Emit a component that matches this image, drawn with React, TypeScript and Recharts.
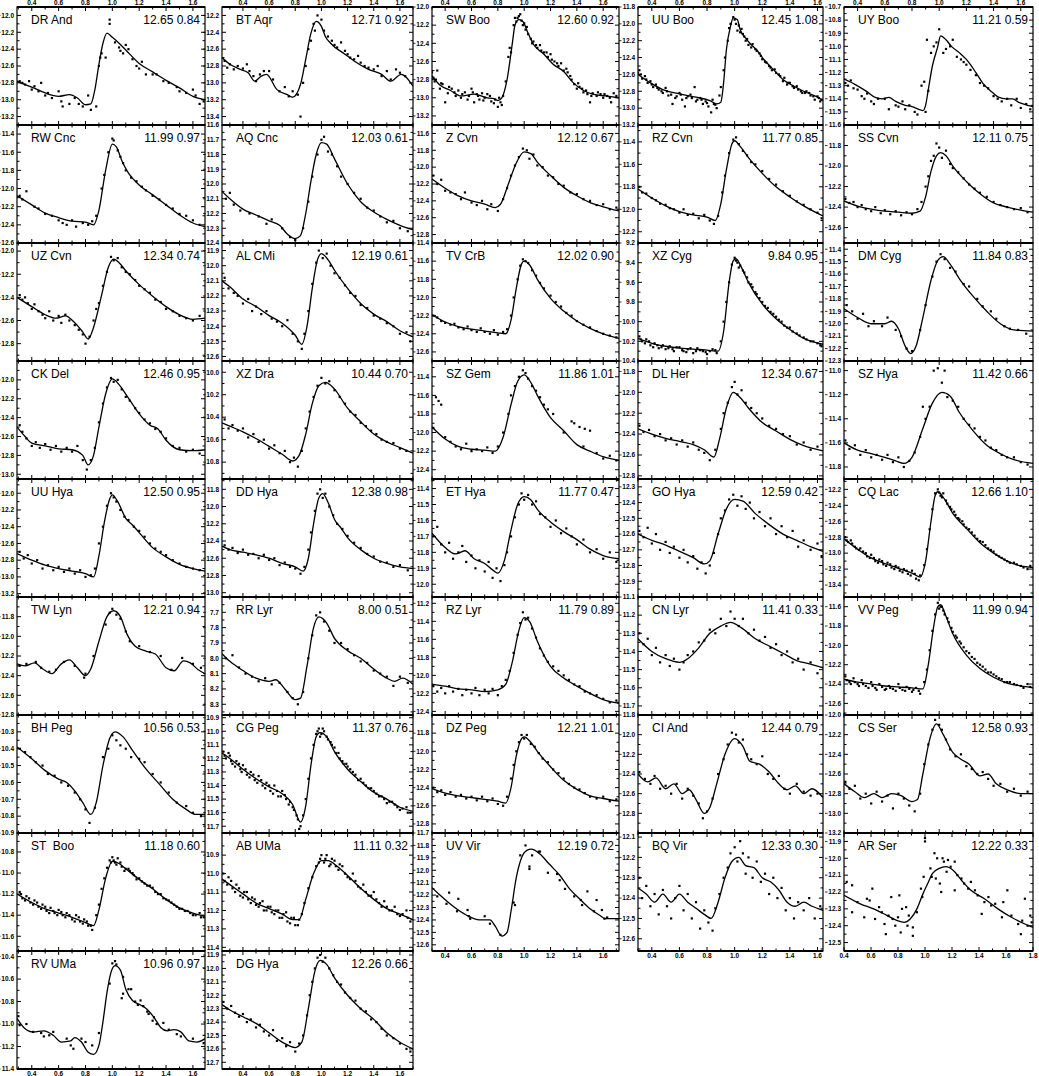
import React from 'react';
import { ComposedChart, Line, Scatter, XAxis, YAxis } from 'recharts';

type P = [number, number];

// light curves: [phase, magnitude]
const drAnd: P[] = [[0.29,12.78],[0.35,12.82],[0.4,12.85],[0.5,12.92],[0.6,12.96],[0.68,12.94],[0.74,12.98],[0.8,13.06],[0.84,13.05],[0.87,12.88],[0.9,12.58],[0.93,12.33],[0.96,12.21],[1.0,12.26],[1.05,12.33],[1.1,12.41],[1.2,12.57],[1.3,12.67],[1.4,12.77],[1.5,12.86],[1.6,12.96],[1.69,13.0]];
const drAndPts: P[] = [[0.31,12.78],[0.33,12.8],[0.35,12.82],[0.38,12.78],[0.4,12.88],[0.42,12.84],[0.45,12.9],[0.47,12.8],[0.5,12.95],[0.52,12.92],[0.55,12.98],[0.6,12.9],[0.62,13.02],[0.63,13.08],[0.68,13.05],[0.72,12.98],[0.75,13.05],[0.78,13.08],[0.82,12.95],[0.84,13.12],[0.88,13.08],[0.9,12.6],[0.91,12.5],[0.92,12.45],[0.95,12.5],[0.98,12.1],[0.98,12.05],[1.02,12.32],[1.05,12.38],[1.06,12.42],[1.08,12.45],[1.1,12.35],[1.12,12.4],[1.15,12.52],[1.18,12.6],[1.2,12.63],[1.22,12.55],[1.25,12.7],[1.3,12.7],[1.33,12.7],[1.38,12.78],[1.42,12.8],[1.48,12.85],[1.5,12.9],[1.55,12.92],[1.6,12.88],[1.62,12.95],[1.65,13.05],[1.68,13.02]];
const btAqr: P[] = [[0.24,12.7],[0.3,12.78],[0.38,12.84],[0.44,12.88],[0.49,12.98],[0.54,12.92],[0.58,12.9],[0.66,13.08],[0.74,13.14],[0.78,13.17],[0.84,13.02],[0.88,12.72],[0.92,12.41],[0.96,12.27],[1.0,12.33],[1.03,12.45],[1.07,12.53],[1.18,12.66],[1.25,12.74],[1.36,12.84],[1.46,12.9],[1.53,12.98],[1.61,12.9],[1.7,13.04]];
const btAqrPts: P[] = [[0.26,12.74],[0.28,12.82],[0.3,12.78],[0.33,12.84],[0.36,12.8],[0.4,12.83],[0.43,12.78],[0.45,12.86],[0.48,12.92],[0.5,12.98],[0.53,12.9],[0.56,12.86],[0.6,12.86],[0.63,12.96],[0.68,13.1],[0.72,13.05],[0.75,13.16],[0.78,13.1],[0.82,13.14],[0.84,13.4],[0.86,13.0],[0.88,12.8],[0.9,12.6],[0.92,12.5],[0.94,12.3],[0.95,12.38],[0.97,12.2],[1.0,12.25],[1.02,12.38],[1.05,12.45],[1.08,12.5],[1.1,12.55],[1.12,12.58],[1.15,12.52],[1.18,12.62],[1.2,12.66],[1.22,12.7],[1.25,12.72],[1.28,12.68],[1.3,12.76],[1.33,12.8],[1.36,12.82],[1.4,12.84],[1.43,12.8],[1.46,12.92],[1.5,12.86],[1.53,12.96],[1.57,12.84],[1.6,12.88],[1.64,12.92]];
const swBoo: P[] = [[0.29,12.74],[0.36,12.86],[0.44,12.92],[0.52,12.98],[0.62,12.96],[0.72,13.0],[0.77,13.01],[0.8,13.03],[0.83,13.0],[0.87,12.8],[0.91,12.4],[0.93,12.2],[0.96,12.14],[0.99,12.16],[1.03,12.29],[1.07,12.41],[1.15,12.52],[1.22,12.63],[1.3,12.71],[1.37,12.83],[1.45,12.92],[1.52,12.96],[1.62,12.98],[1.72,13.0]];
const swBooPts: P[] = [[0.3,12.72],[0.31,12.78],[0.33,12.8],[0.34,12.7],[0.36,12.9],[0.38,12.85],[0.4,13.05],[0.42,12.95],[0.45,12.9],[0.48,12.98],[0.5,12.92],[0.52,13.0],[0.55,12.94],[0.58,12.98],[0.6,12.9],[0.62,13.05],[0.64,12.96],[0.66,13.02],[0.68,12.95],[0.7,13.0],[0.72,12.96],[0.75,13.04],[0.78,13.02],[0.8,13.1],[0.82,13.05],[0.84,12.98],[0.86,12.82],[0.88,12.55],[0.89,12.45],[0.9,12.5],[0.92,12.2],[0.93,12.12],[0.95,12.12],[0.96,12.1],[0.97,12.08],[0.98,12.15],[1.0,12.18],[1.01,12.25],[1.03,12.3],[1.05,12.35],[1.07,12.38],[1.1,12.45],[1.12,12.42],[1.15,12.5],[1.18,12.55],[1.2,12.52],[1.23,12.6],[1.26,12.65],[1.28,12.62],[1.3,12.7],[1.33,12.72],[1.36,12.8],[1.38,12.85],[1.4,12.9],[1.42,12.88],[1.45,12.94],[1.48,12.96],[1.5,13.05],[1.52,12.95],[1.55,12.98],[1.58,12.96],[1.6,13.0],[1.63,12.98],[1.66,13.05],[1.7,12.98],[0.32,12.82],[0.37,12.84],[0.43,12.88],[0.47,12.94],[0.53,12.96],[0.57,13.02],[0.61,12.94],[0.65,12.98],[0.69,13.03],[0.74,12.98],[0.77,13.06],[0.81,13.0],[0.83,13.08],[0.94,12.16],[0.99,12.2],[1.02,12.22],[1.06,12.4],[1.09,12.42],[1.13,12.48],[1.17,12.5],[1.21,12.58],[1.25,12.62],[1.32,12.68],[1.35,12.76],[1.41,12.84],[1.44,12.9],[1.47,12.92],[1.51,12.98],[1.56,12.94],[1.61,12.96],[1.65,13.0],[1.68,12.95]];
const uuBoo: P[] = [[0.3,12.6],[0.39,12.7],[0.48,12.78],[0.6,12.83],[0.72,12.87],[0.82,12.91],[0.87,12.95],[0.9,12.93],[0.92,12.7],[0.94,12.31],[0.97,12.03],[0.99,11.93],[1.02,11.95],[1.04,12.07],[1.08,12.17],[1.11,12.23],[1.16,12.31],[1.21,12.42],[1.28,12.54],[1.35,12.66],[1.43,12.74],[1.5,12.8],[1.6,12.87],[1.64,12.91]];
const uuBooPts: P[] = [[0.3,12.58],[0.31,12.55],[0.33,12.65],[0.35,12.62],[0.37,12.7],[0.39,12.68],[0.41,12.75],[0.43,12.72],[0.45,12.78],[0.48,12.82],[0.5,12.76],[0.52,12.85],[0.55,12.95],[0.57,12.88],[0.6,12.82],[0.62,12.9],[0.64,12.98],[0.66,12.86],[0.69,12.88],[0.71,12.75],[0.73,12.9],[0.75,12.88],[0.77,12.95],[0.79,12.92],[0.81,12.98],[0.83,13.05],[0.85,12.95],[0.87,13.0],[0.89,12.85],[0.9,12.75],[0.92,12.55],[0.93,12.4],[0.95,12.2],[0.96,12.05],[0.97,12.0],[0.99,11.92],[1.0,11.95],[1.01,12.0],[1.02,12.08],[1.04,12.1],[1.06,12.12],[1.08,12.2],[1.1,12.25],[1.12,12.28],[1.15,12.3],[1.18,12.35],[1.2,12.42],[1.22,12.45],[1.25,12.5],[1.27,12.55],[1.3,12.58],[1.33,12.62],[1.35,12.68],[1.38,12.72],[1.4,12.7],[1.43,12.76],[1.46,12.78],[1.49,12.82],[1.52,12.8],[1.55,12.85],[1.58,12.9],[1.6,12.86],[1.62,12.92],[0.32,12.6],[0.36,12.66],[0.4,12.72],[0.44,12.76],[0.47,12.8],[0.51,12.8],[0.54,12.84],[0.58,12.86],[0.61,12.84],[0.65,12.88],[0.68,12.84],[0.72,12.92],[0.76,12.9],[0.8,12.94],[0.84,12.9],[0.86,12.96],[1.03,12.02],[1.05,12.06],[1.07,12.15],[1.09,12.18],[1.13,12.24],[1.16,12.32],[1.19,12.38],[1.23,12.46],[1.26,12.52],[1.29,12.54],[1.32,12.6],[1.36,12.64],[1.39,12.7],[1.42,12.74],[1.45,12.74],[1.48,12.8],[1.51,12.82],[1.54,12.82],[1.57,12.86],[1.61,12.88],[1.63,12.9]];
const uyBoo: P[] = [[0.3,11.25],[0.38,11.29],[0.46,11.34],[0.53,11.39],[0.58,11.4],[0.63,11.39],[0.68,11.42],[0.75,11.45],[0.8,11.46],[0.85,11.48],[0.88,11.49],[0.9,11.45],[0.92,11.33],[0.95,11.15],[0.99,11.0],[1.01,10.92],[1.05,10.95],[1.09,11.0],[1.15,11.05],[1.2,11.1],[1.27,11.2],[1.32,11.28],[1.39,11.35],[1.44,11.39],[1.49,11.4],[1.54,11.4],[1.59,11.43],[1.65,11.45],[1.69,11.46]];
const uyBooPts: P[] = [[0.31,11.28],[0.33,11.3],[0.35,11.26],[0.37,11.32],[0.4,11.33],[0.43,11.38],[0.45,11.4],[0.47,11.36],[0.5,11.42],[0.52,11.44],[0.55,11.4],[0.6,11.4],[0.63,11.48],[0.68,11.45],[0.7,11.46],[0.73,11.42],[0.75,11.48],[0.78,11.45],[0.82,11.5],[0.84,11.52],[0.87,11.3],[0.89,11.27],[0.9,11.5],[0.91,10.95],[0.92,11.34],[0.94,11.05],[0.96,11.0],[0.98,10.97],[1.0,10.87],[1.03,11.05],[1.05,11.02],[1.08,11.0],[1.1,10.95],[1.13,11.08],[1.16,11.1],[1.18,11.12],[1.2,11.14],[1.23,11.18],[1.27,11.22],[1.3,11.28],[1.33,11.3],[1.36,11.32],[1.4,11.38],[1.43,11.4],[1.46,11.42],[1.5,11.4],[1.53,11.45],[1.57,11.4],[1.6,11.47],[1.64,11.44],[1.67,11.48]];
const rwCnc: P[] = [[0.29,12.08],[0.4,12.18],[0.5,12.27],[0.6,12.32],[0.7,12.36],[0.8,12.37],[0.86,12.4],[0.9,12.24],[0.95,11.8],[1.0,11.51],[1.03,11.54],[1.07,11.69],[1.12,11.83],[1.2,11.96],[1.3,12.07],[1.4,12.18],[1.5,12.29],[1.6,12.38],[1.69,12.42]];
const rwCncPts: P[] = [[0.31,12.08],[0.33,12.12],[0.36,12.03],[0.42,12.2],[0.45,12.22],[0.5,12.28],[0.55,12.3],[0.6,12.35],[0.63,12.38],[0.66,12.4],[0.7,12.35],[0.73,12.42],[0.78,12.38],[0.82,12.4],[0.85,12.36],[0.88,12.3],[0.92,12.0],[0.94,11.85],[0.97,11.6],[1.0,11.45],[1.01,11.47],[1.04,11.58],[1.06,11.65],[1.08,11.72],[1.1,11.8],[1.14,11.88],[1.18,11.92],[1.22,11.98],[1.25,12.02],[1.3,12.08],[1.35,12.12],[1.4,12.18],[1.45,12.22],[1.5,12.28],[1.55,12.3],[1.6,12.35],[1.65,12.4]];
const aqCnc: P[] = [[0.24,12.05],[0.3,12.1],[0.4,12.17],[0.5,12.21],[0.6,12.25],[0.68,12.28],[0.74,12.34],[0.8,12.37],[0.84,12.35],[0.88,12.2],[0.92,11.98],[0.96,11.8],[1.0,11.72],[1.04,11.73],[1.1,11.83],[1.2,12.0],[1.3,12.12],[1.4,12.19],[1.5,12.24],[1.6,12.28],[1.7,12.31]];
const aqCncPts: P[] = [[0.27,12.1],[0.3,12.06],[0.33,12.14],[0.38,12.18],[0.45,12.2],[0.52,12.22],[0.58,12.27],[0.62,12.24],[0.7,12.3],[0.76,12.36],[0.8,12.38],[0.86,12.3],[0.9,12.12],[0.93,11.95],[0.97,11.8],[1.0,11.7],[1.02,11.68],[1.05,11.78],[1.08,11.8],[1.12,11.88],[1.15,11.95],[1.2,12.0],[1.25,12.06],[1.3,12.1],[1.35,12.16],[1.4,12.18],[1.45,12.22],[1.5,12.26],[1.55,12.25],[1.6,12.3],[1.66,12.32]];
const zCvn: P[] = [[0.3,12.14],[0.4,12.25],[0.5,12.34],[0.6,12.4],[0.7,12.44],[0.78,12.48],[0.82,12.44],[0.88,12.2],[0.94,11.95],[1.0,11.82],[1.05,11.84],[1.1,11.94],[1.2,12.1],[1.3,12.24],[1.4,12.34],[1.5,12.42],[1.6,12.47],[1.72,12.52]];
const zCvnPts: P[] = [[0.31,12.1],[0.34,12.2],[0.37,12.15],[0.4,12.28],[0.44,12.3],[0.48,12.32],[0.52,12.38],[0.55,12.3],[0.6,12.42],[0.64,12.45],[0.68,12.4],[0.72,12.5],[0.75,12.44],[0.8,12.52],[0.84,12.38],[0.87,12.25],[0.9,12.1],[0.93,11.98],[0.96,11.88],[0.99,11.78],[1.02,11.8],[1.04,11.9],[1.07,11.85],[1.1,11.98],[1.14,12.0],[1.18,12.1],[1.22,12.12],[1.26,12.2],[1.3,12.22],[1.35,12.3],[1.4,12.32],[1.45,12.38],[1.5,12.4],[1.55,12.45],[1.6,12.44],[1.65,12.5],[1.7,12.48]];
const rzCvn: P[] = [[0.3,11.82],[0.4,11.9],[0.5,11.97],[0.6,12.02],[0.7,12.05],[0.8,12.07],[0.86,12.1],[0.9,11.95],[0.94,11.65],[0.98,11.42],[1.0,11.39],[1.04,11.44],[1.1,11.54],[1.2,11.68],[1.3,11.8],[1.4,11.89],[1.5,11.97],[1.64,12.06]];
const rzCvnPts: P[] = [[0.31,11.8],[0.33,11.85],[0.36,11.86],[0.4,11.9],[0.43,11.92],[0.46,11.95],[0.5,11.96],[0.53,11.99],[0.56,12.0],[0.6,12.03],[0.63,12.0],[0.66,12.05],[0.7,12.04],[0.74,12.08],[0.78,12.05],[0.82,12.1],[0.85,12.13],[0.88,12.06],[0.91,11.85],[0.93,11.7],[0.96,11.5],[0.99,11.38],[1.01,11.36],[1.03,11.42],[1.06,11.48],[1.09,11.52],[1.12,11.58],[1.15,11.6],[1.2,11.66],[1.25,11.73],[1.3,11.78],[1.35,11.84],[1.4,11.88],[1.45,11.93],[1.5,11.96],[1.55,12.0],[1.6,12.03],[1.63,12.08]];
const ssCvn: P[] = [[0.3,12.34],[0.4,12.39],[0.5,12.42],[0.6,12.44],[0.7,12.45],[0.8,12.46],[0.86,12.44],[0.9,12.3],[0.94,12.05],[0.98,11.9],[1.01,11.87],[1.05,11.9],[1.1,12.0],[1.2,12.15],[1.3,12.27],[1.4,12.36],[1.5,12.4],[1.6,12.43],[1.69,12.45]];
const ssCvnPts: P[] = [[0.31,12.32],[0.34,12.36],[0.37,12.35],[0.4,12.4],[0.43,12.38],[0.46,12.42],[0.5,12.44],[0.53,12.4],[0.57,12.46],[0.6,12.43],[0.64,12.47],[0.68,12.44],[0.72,12.48],[0.76,12.45],[0.8,12.47],[0.84,12.42],[0.87,12.35],[0.9,12.2],[0.92,12.1],[0.94,11.95],[0.96,11.9],[0.98,11.78],[1.0,11.82],[1.02,11.92],[1.05,11.85],[1.08,11.98],[1.1,12.02],[1.14,12.06],[1.18,12.12],[1.22,12.18],[1.26,12.22],[1.3,12.26],[1.35,12.3],[1.4,12.35],[1.45,12.38],[1.5,12.4],[1.55,12.42],[1.6,12.41],[1.65,12.45]];
const uzCvn: P[] = [[0.29,12.4],[0.4,12.48],[0.5,12.55],[0.58,12.58],[0.65,12.56],[0.72,12.62],[0.78,12.7],[0.82,12.76],[0.86,12.66],[0.92,12.38],[0.97,12.14],[1.01,12.07],[1.05,12.1],[1.1,12.17],[1.2,12.29],[1.3,12.39],[1.4,12.48],[1.5,12.55],[1.6,12.59],[1.69,12.58]];
const uzCvnPts: P[] = [[0.31,12.38],[0.33,12.42],[0.35,12.4],[0.37,12.45],[0.4,12.5],[0.42,12.46],[0.45,12.52],[0.48,12.55],[0.5,12.58],[0.53,12.52],[0.56,12.6],[0.6,12.56],[0.62,12.62],[0.65,12.55],[0.68,12.6],[0.72,12.64],[0.75,12.68],[0.78,12.72],[0.8,12.8],[0.83,12.74],[0.86,12.6],[0.88,12.5],[0.9,12.45],[0.93,12.3],[0.96,12.18],[0.99,12.05],[1.01,12.08],[1.04,12.06],[1.07,12.14],[1.1,12.18],[1.13,12.2],[1.17,12.25],[1.2,12.3],[1.24,12.33],[1.28,12.36],[1.32,12.42],[1.36,12.44],[1.4,12.5],[1.45,12.52],[1.5,12.56],[1.55,12.58],[1.6,12.6],[1.65,12.56]];
const alCmi: P[] = [[0.24,12.1],[0.3,12.14],[0.4,12.22],[0.5,12.27],[0.6,12.33],[0.7,12.38],[0.8,12.46],[0.85,12.52],[0.89,12.4],[0.93,12.15],[0.97,11.96],[1.0,11.92],[1.05,11.96],[1.1,12.03],[1.2,12.15],[1.3,12.25],[1.4,12.32],[1.5,12.37],[1.6,12.43],[1.7,12.47]];
const alCmiPts: P[] = [[0.26,12.08],[0.29,12.15],[0.33,12.18],[0.36,12.2],[0.4,12.25],[0.44,12.22],[0.47,12.3],[0.5,12.27],[0.54,12.32],[0.58,12.3],[0.62,12.35],[0.66,12.37],[0.7,12.4],[0.74,12.36],[0.78,12.45],[0.82,12.5],[0.85,12.55],[0.87,12.45],[0.9,12.3],[0.93,12.12],[0.96,11.98],[0.98,11.9],[1.01,11.95],[1.04,11.92],[1.07,12.0],[1.1,12.05],[1.14,12.08],[1.18,12.13],[1.22,12.18],[1.26,12.2],[1.3,12.26],[1.35,12.28],[1.4,12.33],[1.45,12.35],[1.5,12.38],[1.55,12.4],[1.6,12.45],[1.65,12.44],[1.68,12.5]];
const tvCrb: P[] = [[0.3,12.19],[0.4,12.27],[0.5,12.32],[0.6,12.35],[0.7,12.37],[0.8,12.39],[0.86,12.4],[0.9,12.25],[0.94,11.9],[0.98,11.63],[1.0,11.6],[1.04,11.64],[1.1,11.8],[1.2,12.01],[1.3,12.15],[1.4,12.26],[1.5,12.34],[1.6,12.4],[1.72,12.45]];
const tvCrbPts: P[] = [[0.31,12.2],[0.34,12.22],[0.37,12.26],[0.4,12.28],[0.44,12.3],[0.47,12.29],[0.5,12.33],[0.54,12.35],[0.57,12.32],[0.6,12.36],[0.64,12.38],[0.67,12.34],[0.7,12.38],[0.74,12.4],[0.77,12.36],[0.8,12.41],[0.84,12.38],[0.87,12.35],[0.9,12.2],[0.92,12.0],[0.95,11.8],[0.97,11.65],[0.99,11.58],[1.01,11.6],[1.03,11.62],[1.06,11.7],[1.09,11.76],[1.12,11.84],[1.15,11.9],[1.2,11.98],[1.24,12.05],[1.28,12.1],[1.32,12.17],[1.36,12.2],[1.4,12.26],[1.45,12.3],[1.5,12.33],[1.55,12.37],[1.6,12.4],[1.65,12.42],[1.7,12.44]];
const xzCyg: P[] = [[0.3,10.17],[0.4,10.22],[0.5,10.25],[0.6,10.27],[0.7,10.28],[0.8,10.29],[0.88,10.3],[0.92,10.1],[0.96,9.6],[0.99,9.38],[1.01,9.36],[1.05,9.45],[1.1,9.6],[1.2,9.82],[1.3,9.97],[1.4,10.08],[1.5,10.17],[1.64,10.23]];
const xzCygPts: P[] = [[0.31,10.15],[0.33,10.2],[0.36,10.18],[0.39,10.24],[0.42,10.22],[0.45,10.27],[0.48,10.24],[0.5,10.28],[0.53,10.25],[0.56,10.3],[0.6,10.26],[0.63,10.3],[0.66,10.28],[0.7,10.32],[0.73,10.27],[0.77,10.3],[0.8,10.33],[0.84,10.28],[0.87,10.32],[0.9,10.2],[0.92,10.0],[0.94,9.8],[0.96,9.6],[0.98,9.42],[1.0,9.35],[1.02,9.4],[1.04,9.43],[1.07,9.5],[1.1,9.6],[1.13,9.65],[1.16,9.72],[1.2,9.8],[1.24,9.86],[1.28,9.92],[1.32,9.98],[1.36,10.04],[1.4,10.06],[1.45,10.12],[1.5,10.16],[1.55,10.2],[1.6,10.22],[1.63,10.25],[0.32,10.18],[0.35,10.22],[0.38,10.2],[0.41,10.26],[0.44,10.24],[0.47,10.26],[0.52,10.27],[0.55,10.28],[0.58,10.26],[0.62,10.29],[0.65,10.31],[0.68,10.27],[0.72,10.3],[0.75,10.29],[0.79,10.31],[0.82,10.3],[0.86,10.29],[1.01,9.38],[1.03,9.45],[1.06,9.48],[1.09,9.55],[1.12,9.62],[1.15,9.7],[1.18,9.76],[1.22,9.84],[1.26,9.9],[1.3,9.95],[1.34,10.0],[1.38,10.06],[1.42,10.1],[1.47,10.14],[1.52,10.18],[1.57,10.2],[1.62,10.24]];
const dmCyg: P[] = [[0.3,11.88],[0.4,11.95],[0.5,12.0],[0.6,12.0],[0.65,11.98],[0.7,12.04],[0.75,12.18],[0.79,12.24],[0.83,12.18],[0.88,11.95],[0.94,11.65],[0.99,11.49],[1.03,11.46],[1.08,11.52],[1.15,11.64],[1.25,11.78],[1.35,11.9],[1.45,12.0],[1.55,12.05],[1.69,12.06]];
const dmCygPts: P[] = [[0.32,11.85],[0.36,11.9],[0.4,11.96],[0.44,11.92],[0.48,12.02],[0.52,11.98],[0.58,12.02],[0.62,11.95],[0.68,12.05],[0.72,12.1],[0.76,12.2],[0.8,12.22],[0.86,12.05],[0.9,11.85],[0.95,11.62],[0.98,11.5],[1.01,11.44],[1.04,11.48],[1.08,11.55],[1.12,11.58],[1.18,11.68],[1.22,11.7],[1.28,11.8],[1.32,11.86],[1.38,11.9],[1.42,11.96],[1.48,12.02],[1.52,12.04],[1.58,12.05],[1.64,12.08]];
const ckDel: P[] = [[0.29,12.5],[0.35,12.6],[0.4,12.67],[0.5,12.7],[0.6,12.73],[0.7,12.74],[0.78,12.8],[0.82,12.9],[0.86,12.8],[0.9,12.5],[0.95,12.15],[1.0,11.99],[1.05,12.05],[1.1,12.15],[1.2,12.36],[1.28,12.48],[1.34,12.52],[1.4,12.64],[1.5,12.74],[1.6,12.75],[1.69,12.74]];
const ckDelPts: P[] = [[0.31,12.48],[0.33,12.55],[0.36,12.62],[0.4,12.7],[0.43,12.66],[0.46,12.72],[0.5,12.68],[0.54,12.74],[0.58,12.7],[0.62,12.76],[0.66,12.72],[0.7,12.76],[0.74,12.7],[0.78,12.85],[0.81,12.95],[0.84,12.85],[0.87,12.72],[0.9,12.45],[0.93,12.25],[0.96,12.08],[0.99,11.98],[1.01,12.02],[1.04,12.0],[1.07,12.1],[1.1,12.18],[1.13,12.22],[1.17,12.3],[1.2,12.35],[1.24,12.42],[1.28,12.46],[1.32,12.52],[1.36,12.55],[1.4,12.62],[1.45,12.7],[1.5,12.72],[1.55,12.76],[1.6,12.74],[1.65,12.78]];
const xzDra: P[] = [[0.24,10.45],[0.3,10.48],[0.4,10.53],[0.5,10.59],[0.6,10.66],[0.7,10.73],[0.78,10.79],[0.83,10.74],[0.88,10.55],[0.93,10.28],[0.98,10.12],[1.03,10.09],[1.1,10.15],[1.2,10.32],[1.3,10.44],[1.4,10.55],[1.5,10.62],[1.6,10.67],[1.7,10.72]];
const xzDraPts: P[] = [[0.26,10.42],[0.29,10.5],[0.32,10.47],[0.36,10.52],[0.4,10.5],[0.44,10.58],[0.48,10.55],[0.52,10.62],[0.56,10.6],[0.6,10.68],[0.64,10.65],[0.68,10.72],[0.72,10.7],[0.76,10.8],[0.79,10.76],[0.82,10.84],[0.85,10.7],[0.88,10.5],[0.91,10.35],[0.94,10.22],[0.97,10.12],[1.0,10.05],[1.03,10.1],[1.06,10.08],[1.1,10.16],[1.14,10.22],[1.18,10.28],[1.22,10.35],[1.26,10.38],[1.3,10.45],[1.34,10.48],[1.38,10.52],[1.42,10.55],[1.46,10.6],[1.5,10.62],[1.55,10.63],[1.6,10.68],[1.65,10.7]];
const szGem: P[] = [[0.3,11.94],[0.4,12.07],[0.5,12.15],[0.6,12.18],[0.7,12.19],[0.78,12.2],[0.84,12.05],[0.9,11.7],[0.95,11.45],[1.0,11.38],[1.05,11.46],[1.1,11.6],[1.2,11.84],[1.3,11.98],[1.4,12.13],[1.5,12.2],[1.6,12.26],[1.72,12.3]];
const szGemPts: P[] = [[0.33,11.62],[0.35,11.66],[0.37,11.7],[0.31,11.95],[0.4,12.05],[0.44,12.1],[0.48,12.15],[0.52,12.18],[0.56,12.12],[0.6,12.2],[0.64,12.18],[0.68,12.2],[0.72,12.16],[0.76,12.22],[0.8,12.15],[0.84,12.0],[0.88,11.8],[0.9,11.6],[0.93,11.5],[0.96,11.4],[0.99,11.33],[1.01,11.36],[1.03,11.42],[1.06,11.5],[1.09,11.55],[1.12,11.62],[1.15,11.7],[1.18,11.75],[1.22,11.8],[1.36,11.88],[1.38,11.9],[1.42,11.94],[1.46,11.96],[1.5,11.98],[1.3,12.0],[1.45,12.15],[1.55,12.22],[1.6,12.28],[1.65,12.25],[1.7,12.3]];
const dlHer: P[] = [[0.3,12.35],[0.4,12.4],[0.5,12.44],[0.6,12.47],[0.7,12.5],[0.78,12.55],[0.85,12.62],[0.89,12.45],[0.94,12.15],[0.99,12.0],[1.04,12.05],[1.1,12.15],[1.2,12.29],[1.3,12.37],[1.4,12.45],[1.5,12.51],[1.64,12.56]];
const dlHerPts: P[] = [[0.31,12.32],[0.34,12.38],[0.38,12.36],[0.42,12.42],[0.46,12.4],[0.5,12.46],[0.54,12.44],[0.58,12.5],[0.62,12.46],[0.66,12.52],[0.7,12.48],[0.74,12.55],[0.78,12.58],[0.82,12.65],[0.86,12.55],[0.9,12.35],[0.92,12.2],[0.95,12.1],[0.98,11.95],[1.0,11.9],[1.02,12.02],[1.05,11.98],[1.08,12.1],[1.12,12.15],[1.16,12.2],[1.2,12.25],[1.25,12.32],[1.3,12.35],[1.35,12.4],[1.4,12.42],[1.45,12.5],[1.5,12.48],[1.55,12.55],[1.6,12.52]];
const szHya: P[] = [[0.3,11.6],[0.4,11.66],[0.5,11.69],[0.6,11.72],[0.68,11.75],[0.74,11.77],[0.8,11.72],[0.88,11.48],[0.95,11.27],[1.02,11.18],[1.08,11.21],[1.15,11.35],[1.25,11.5],[1.35,11.62],[1.45,11.69],[1.55,11.74],[1.69,11.77]];
const szHyaPts: P[] = [[0.31,11.58],[0.34,11.65],[0.38,11.62],[0.42,11.7],[0.46,11.66],[0.5,11.72],[0.54,11.7],[0.58,11.74],[0.62,11.7],[0.66,11.76],[0.7,11.72],[0.74,11.8],[0.78,11.75],[0.82,11.68],[0.86,11.55],[0.88,11.3],[0.9,11.4],[0.93,11.3],[0.96,11.0],[0.99,10.98],[1.02,11.1],[1.04,11.0],[1.06,11.22],[1.1,11.25],[1.14,11.3],[1.18,11.4],[1.22,11.45],[1.26,11.48],[1.3,11.55],[1.34,11.58],[1.38,11.64],[1.42,11.66],[1.46,11.7],[1.5,11.72],[1.55,11.72],[1.6,11.76],[1.65,11.78]];
const uuHya: P[] = [[0.29,12.72],[0.4,12.8],[0.5,12.86],[0.6,12.9],[0.7,12.93],[0.8,12.96],[0.86,13.0],[0.9,12.75],[0.94,12.35],[0.98,12.07],[1.0,12.02],[1.04,12.1],[1.1,12.3],[1.15,12.38],[1.2,12.47],[1.3,12.65],[1.4,12.76],[1.5,12.85],[1.6,12.9],[1.69,12.93]];
const uuHyaPts: P[] = [[0.31,12.7],[0.34,12.78],[0.37,12.74],[0.4,12.84],[0.44,12.8],[0.48,12.9],[0.52,12.86],[0.56,12.92],[0.6,12.88],[0.64,12.94],[0.68,12.9],[0.72,12.96],[0.76,12.92],[0.8,13.0],[0.84,12.98],[0.87,12.9],[0.9,12.6],[0.93,12.4],[0.96,12.15],[0.99,12.0],[1.01,12.05],[1.03,12.1],[1.06,12.2],[1.09,12.28],[1.12,12.32],[1.16,12.4],[1.2,12.45],[1.24,12.52],[1.28,12.6],[1.32,12.66],[1.36,12.7],[1.4,12.74],[1.45,12.8],[1.5,12.84],[1.55,12.88],[1.6,12.9],[1.65,12.92]];
const ddHya: P[] = [[0.24,12.46],[0.3,12.5],[0.4,12.53],[0.5,12.56],[0.6,12.6],[0.7,12.66],[0.8,12.7],[0.86,12.75],[0.9,12.6],[0.94,12.2],[0.98,11.9],[1.01,11.85],[1.05,11.95],[1.1,12.15],[1.15,12.25],[1.2,12.36],[1.3,12.5],[1.4,12.6],[1.5,12.66],[1.6,12.7],[1.7,12.72]];
const ddHyaPts: P[] = [[0.26,12.45],[0.29,12.5],[0.32,12.48],[0.36,12.54],[0.4,12.5],[0.44,12.56],[0.48,12.55],[0.52,12.6],[0.56,12.56],[0.6,12.62],[0.64,12.6],[0.68,12.68],[0.72,12.65],[0.76,12.7],[0.8,12.72],[0.84,12.78],[0.87,12.7],[0.9,12.5],[0.92,12.3],[0.95,12.05],[0.97,11.85],[0.99,11.8],[1.01,11.9],[1.03,11.85],[1.06,12.0],[1.09,12.1],[1.12,12.2],[1.16,12.26],[1.2,12.34],[1.25,12.42],[1.3,12.48],[1.35,12.55],[1.4,12.58],[1.45,12.64],[1.5,12.65],[1.55,12.7],[1.6,12.68],[1.66,12.74]];
const etHya: P[] = [[0.3,11.68],[0.4,11.77],[0.48,11.81],[0.55,11.79],[0.62,11.84],[0.7,11.87],[0.76,11.91],[0.8,11.93],[0.85,11.85],[0.9,11.66],[0.95,11.5],[1.0,11.45],[1.05,11.47],[1.1,11.53],[1.2,11.61],[1.3,11.67],[1.4,11.72],[1.5,11.78],[1.6,11.82],[1.72,11.84]];
const etHyaPts: P[] = [[0.31,11.7],[0.34,11.64],[0.37,11.75],[0.4,11.8],[0.43,11.74],[0.46,11.84],[0.5,11.8],[0.53,11.76],[0.56,11.86],[0.6,11.82],[0.63,11.9],[0.66,11.85],[0.7,11.92],[0.73,11.86],[0.76,11.96],[0.79,11.9],[0.82,11.98],[0.85,11.88],[0.87,11.8],[0.9,11.7],[0.93,11.58],[0.96,11.5],[0.98,11.43],[1.0,11.47],[1.03,11.44],[1.06,11.5],[1.09,11.48],[1.12,11.56],[1.16,11.58],[1.2,11.64],[1.24,11.6],[1.28,11.68],[1.32,11.65],[1.36,11.7],[1.4,11.75],[1.45,11.72],[1.5,11.8],[1.55,11.78],[1.6,11.84],[1.65,11.8],[1.7,11.86]];
const goHya: P[] = [[0.3,12.6],[0.4,12.64],[0.5,12.67],[0.6,12.71],[0.7,12.75],[0.78,12.79],[0.82,12.77],[0.88,12.6],[0.94,12.44],[1.0,12.38],[1.06,12.39],[1.15,12.47],[1.25,12.54],[1.35,12.6],[1.45,12.64],[1.55,12.68],[1.64,12.71]];
const goHyaPts: P[] = [[0.31,12.58],[0.34,12.62],[0.37,12.56],[0.4,12.66],[0.43,12.6],[0.46,12.7],[0.5,12.65],[0.53,12.72],[0.56,12.68],[0.6,12.75],[0.63,12.7],[0.66,12.78],[0.7,12.74],[0.73,12.82],[0.76,12.78],[0.79,12.85],[0.82,12.8],[0.85,12.72],[0.88,12.6],[0.9,12.5],[0.93,12.45],[0.96,12.38],[0.99,12.35],[1.02,12.42],[1.05,12.36],[1.08,12.44],[1.11,12.4],[1.14,12.5],[1.18,12.46],[1.22,12.55],[1.26,12.5],[1.3,12.6],[1.34,12.55],[1.38,12.62],[1.42,12.58],[1.46,12.68],[1.5,12.64],[1.55,12.7],[1.6,12.66],[1.63,12.74]];
const cqLac: P[] = [[0.3,12.82],[0.4,12.95],[0.5,13.06],[0.6,13.13],[0.7,13.19],[0.8,13.25],[0.86,13.3],[0.9,13.1],[0.94,12.6],[0.97,12.28],[0.99,12.23],[1.03,12.3],[1.1,12.5],[1.2,12.69],[1.3,12.87],[1.4,13.0],[1.5,13.1],[1.6,13.16],[1.69,13.18]];
const cqLacPts: P[] = [[0.31,12.8],[0.33,12.86],[0.35,12.84],[0.38,12.92],[0.41,12.96],[0.44,12.98],[0.47,13.04],[0.5,13.02],[0.53,13.1],[0.56,13.08],[0.59,13.14],[0.62,13.12],[0.65,13.18],[0.68,13.16],[0.71,13.22],[0.74,13.2],[0.77,13.26],[0.8,13.22],[0.83,13.32],[0.86,13.28],[0.89,13.15],[0.91,12.95],[0.93,12.7],[0.95,12.45],[0.97,12.25],[0.99,12.2],[1.01,12.28],[1.03,12.25],[1.06,12.38],[1.09,12.45],[1.12,12.52],[1.15,12.58],[1.18,12.64],[1.22,12.7],[1.26,12.78],[1.3,12.85],[1.34,12.9],[1.38,12.96],[1.42,13.02],[1.46,13.06],[1.5,13.1],[1.55,13.12],[1.6,13.16],[1.65,13.2],[0.32,12.84],[0.36,12.88],[0.39,12.94],[0.42,12.94],[0.46,13.0],[0.49,13.06],[0.52,13.06],[0.55,13.12],[0.58,13.1],[0.61,13.16],[0.64,13.14],[0.67,13.2],[0.7,13.18],[0.73,13.24],[0.76,13.22],[0.79,13.28],[0.82,13.26],[0.85,13.34],[1.0,12.24],[1.02,12.3],[1.05,12.34],[1.08,12.42],[1.11,12.48],[1.14,12.56],[1.17,12.6],[1.2,12.68],[1.24,12.74],[1.28,12.82],[1.32,12.86],[1.36,12.94],[1.4,12.98],[1.44,13.04],[1.48,13.08],[1.52,13.12],[1.57,13.14],[1.62,13.18],[1.67,13.16]];
const twLyn: P[] = [[0.29,12.28],[0.35,12.3],[0.42,12.27],[0.48,12.33],[0.55,12.38],[0.62,12.28],[0.68,12.24],[0.74,12.32],[0.8,12.4],[0.84,12.33],[0.9,12.05],[0.96,11.8],[1.01,11.74],[1.06,11.8],[1.11,11.98],[1.17,12.1],[1.25,12.15],[1.32,12.18],[1.4,12.32],[1.46,12.35],[1.53,12.25],[1.58,12.27],[1.64,12.34],[1.69,12.38]];
const twLynPts: P[] = [[0.31,12.3],[0.36,12.28],[0.43,12.26],[0.47,12.32],[0.53,12.36],[0.58,12.34],[0.64,12.26],[0.72,12.3],[0.79,12.42],[0.8,12.38],[0.86,12.2],[0.95,11.88],[0.98,11.76],[1.0,11.72],[1.03,11.78],[1.06,11.82],[1.1,11.95],[1.13,12.05],[1.2,12.1],[1.28,12.16],[1.36,12.2],[1.44,12.34],[1.52,12.22],[1.6,12.28],[1.66,12.32]];
const rrLyr: P[] = [[0.24,7.97],[0.3,8.02],[0.4,8.08],[0.5,8.13],[0.6,8.15],[0.65,8.14],[0.72,8.2],[0.8,8.27],[0.84,8.26],[0.89,8.05],[0.94,7.8],[0.98,7.73],[1.04,7.77],[1.1,7.87],[1.2,7.95],[1.3,8.0],[1.4,8.07],[1.5,8.13],[1.56,8.15],[1.62,8.13],[1.7,8.17]];
const rrLyrPts: P[] = [[0.27,8.0],[0.32,7.98],[0.37,8.06],[0.42,8.1],[0.47,8.12],[0.52,8.15],[0.57,8.13],[0.62,8.17],[0.68,8.16],[0.74,8.22],[0.78,8.26],[0.82,8.3],[0.86,8.22],[0.9,8.0],[0.93,7.85],[0.96,7.72],[0.99,7.7],[1.02,7.76],[1.06,7.82],[1.1,7.9],[1.15,7.9],[1.2,7.94],[1.25,7.98],[1.3,8.02],[1.35,8.03],[1.4,8.08],[1.45,8.1],[1.5,8.12],[1.55,8.18],[1.6,8.12],[1.66,8.16]];
const rzLyr: P[] = [[0.3,12.1],[0.4,12.12],[0.5,12.15],[0.6,12.16],[0.7,12.18],[0.8,12.16],[0.86,12.1],[0.91,11.85],[0.96,11.5],[1.0,11.36],[1.04,11.4],[1.1,11.62],[1.2,11.9],[1.3,12.03],[1.4,12.12],[1.5,12.2],[1.6,12.27],[1.72,12.31]];
const rzLyrPts: P[] = [[0.31,12.12],[0.34,12.18],[0.37,12.14],[0.4,12.2],[0.43,12.12],[0.46,12.18],[0.5,12.15],[0.53,12.22],[0.56,12.16],[0.6,12.2],[0.63,12.14],[0.66,12.22],[0.7,12.16],[0.73,12.2],[0.76,12.15],[0.8,12.22],[0.83,12.12],[0.86,12.05],[0.89,11.95],[0.92,11.75],[0.95,11.55],[0.97,11.42],[0.99,11.3],[1.01,11.38],[1.03,11.36],[1.06,11.48],[1.09,11.58],[1.12,11.7],[1.15,11.78],[1.18,11.85],[1.22,11.9],[1.26,11.95],[1.3,12.0],[1.34,12.05],[1.38,12.1],[1.42,12.12],[1.46,12.18],[1.5,12.2],[1.55,12.22],[1.6,12.26],[1.65,12.3],[1.7,12.28]];
const cnLyr: P[] = [[0.3,11.33],[0.4,11.4],[0.5,11.44],[0.6,11.46],[0.66,11.44],[0.74,11.38],[0.82,11.3],[0.9,11.26],[0.97,11.24],[1.05,11.27],[1.15,11.33],[1.25,11.37],[1.35,11.41],[1.45,11.45],[1.55,11.47],[1.64,11.49]];
const cnLyrPts: P[] = [[0.31,11.3],[0.34,11.36],[0.37,11.33],[0.4,11.42],[0.43,11.38],[0.46,11.46],[0.5,11.42],[0.53,11.48],[0.56,11.44],[0.6,11.5],[0.63,11.46],[0.66,11.42],[0.7,11.4],[0.74,11.35],[0.78,11.34],[0.82,11.28],[0.86,11.3],[0.9,11.22],[0.94,11.26],[0.97,11.18],[1.0,11.22],[1.03,11.26],[1.06,11.22],[1.1,11.3],[1.14,11.28],[1.18,11.34],[1.22,11.32],[1.26,11.38],[1.3,11.36],[1.34,11.42],[1.38,11.4],[1.42,11.46],[1.46,11.44],[1.5,11.5],[1.55,11.46],[1.6,11.52]];
const vvPeg: P[] = [[0.3,12.35],[0.4,12.38],[0.5,12.4],[0.6,12.42],[0.7,12.43],[0.8,12.44],[0.88,12.45],[0.92,12.2],[0.96,11.8],[0.99,11.6],[1.01,11.58],[1.05,11.7],[1.1,11.88],[1.2,12.1],[1.3,12.24],[1.4,12.33],[1.5,12.39],[1.6,12.42],[1.69,12.44]];
const vvPegPts: P[] = [[0.31,12.32],[0.34,12.38],[0.37,12.34],[0.4,12.4],[0.43,12.36],[0.46,12.42],[0.5,12.38],[0.53,12.44],[0.56,12.4],[0.6,12.46],[0.63,12.42],[0.66,12.45],[0.7,12.4],[0.73,12.46],[0.76,12.43],[0.8,12.48],[0.83,12.44],[0.86,12.5],[0.89,12.38],[0.91,12.25],[0.93,12.05],[0.95,11.85],[0.97,11.68],[0.99,11.56],[1.01,11.6],[1.03,11.64],[1.06,11.72],[1.09,11.82],[1.12,11.9],[1.15,11.96],[1.18,12.02],[1.22,12.08],[1.26,12.14],[1.3,12.2],[1.34,12.25],[1.38,12.28],[1.42,12.32],[1.46,12.35],[1.5,12.38],[1.55,12.4],[1.6,12.42],[1.65,12.4],[0.32,12.36],[0.35,12.4],[0.38,12.38],[0.41,12.42],[0.44,12.4],[0.48,12.44],[0.51,12.42],[0.54,12.46],[0.58,12.43],[0.61,12.45],[0.64,12.44],[0.68,12.47],[0.71,12.44],[0.75,12.47],[0.78,12.45],[0.81,12.46],[0.85,12.47],[1.0,11.62],[1.02,11.6],[1.04,11.68],[1.07,11.76],[1.1,11.86],[1.13,11.92],[1.16,11.98],[1.2,12.06],[1.24,12.12],[1.28,12.18],[1.32,12.22],[1.36,12.28],[1.4,12.3],[1.44,12.34],[1.48,12.38],[1.52,12.38],[1.57,12.41],[1.62,12.44],[1.67,12.43]];
const bhPeg: P[] = [[0.29,10.39],[0.4,10.46],[0.5,10.53],[0.6,10.58],[0.66,10.6],[0.72,10.65],[0.78,10.72],[0.84,10.79],[0.88,10.72],[0.93,10.5],[0.98,10.34],[1.02,10.3],[1.08,10.33],[1.15,10.41],[1.25,10.52],[1.35,10.61],[1.45,10.7],[1.55,10.76],[1.62,10.79],[1.69,10.79]];
const bhPegPts: P[] = [[0.31,10.4],[0.35,10.42],[0.39,10.45],[0.43,10.48],[0.48,10.5],[0.52,10.55],[0.57,10.56],[0.62,10.6],[0.67,10.62],[0.72,10.66],[0.76,10.7],[0.8,10.76],[0.83,10.84],[0.87,10.75],[0.93,10.45],[0.97,10.4],[1.0,10.32],[1.03,10.35],[1.06,10.38],[1.1,10.4],[1.14,10.45],[1.2,10.46],[1.24,10.48],[1.3,10.55],[1.36,10.6],[1.42,10.66],[1.48,10.72],[1.55,10.74],[1.6,10.78],[1.66,10.8]];
const cgPeg: P[] = [[0.24,11.16],[0.3,11.2],[0.4,11.28],[0.5,11.35],[0.6,11.41],[0.7,11.46],[0.78,11.54],[0.84,11.67],[0.88,11.55],[0.92,11.25],[0.96,11.04],[0.99,11.01],[1.04,11.04],[1.1,11.15],[1.2,11.28],[1.3,11.37],[1.4,11.45],[1.5,11.5],[1.6,11.56],[1.7,11.59]];
const cgPegPts: P[] = [[0.25,11.15],[0.27,11.2],[0.3,11.18],[0.32,11.24],[0.35,11.22],[0.38,11.28],[0.4,11.25],[0.43,11.32],[0.46,11.3],[0.49,11.36],[0.52,11.33],[0.55,11.4],[0.58,11.38],[0.61,11.44],[0.64,11.4],[0.67,11.48],[0.7,11.44],[0.73,11.5],[0.76,11.52],[0.79,11.58],[0.82,11.65],[0.84,11.7],[0.86,11.62],[0.88,11.5],[0.9,11.35],[0.92,11.2],[0.94,11.1],[0.96,11.02],[0.98,10.98],[1.0,11.02],[1.02,11.0],[1.05,11.06],[1.08,11.1],[1.11,11.16],[1.14,11.2],[1.17,11.24],[1.2,11.26],[1.24,11.3],[1.28,11.36],[1.32,11.38],[1.36,11.42],[1.4,11.44],[1.44,11.48],[1.48,11.5],[1.52,11.52],[1.56,11.54],[1.6,11.58],[1.65,11.56],[1.68,11.6],[0.26,11.18],[0.29,11.16],[0.31,11.22],[0.34,11.26],[0.37,11.24],[0.39,11.3],[0.42,11.28],[0.45,11.34],[0.48,11.32],[0.51,11.38],[0.54,11.36],[0.57,11.42],[0.6,11.4],[0.63,11.46],[0.66,11.44],[0.69,11.48],[0.72,11.47],[0.75,11.54],[0.78,11.56],[0.81,11.62],[0.83,11.72],[0.97,11.0],[0.99,11.04],[1.01,10.98],[1.04,11.04],[1.07,11.08],[1.1,11.12],[1.13,11.16],[1.16,11.22],[1.19,11.24],[1.22,11.28],[1.26,11.32],[1.3,11.35],[1.34,11.4],[1.38,11.42],[1.42,11.46],[1.46,11.48],[1.5,11.53],[1.54,11.52],[1.58,11.56],[1.62,11.57],[1.66,11.6]];
const dzPeg: P[] = [[0.3,12.41],[0.4,12.46],[0.5,12.49],[0.6,12.51],[0.7,12.53],[0.8,12.55],[0.86,12.57],[0.9,12.4],[0.94,12.05],[0.98,11.86],[1.0,11.84],[1.05,11.9],[1.1,12.0],[1.2,12.17],[1.3,12.32],[1.4,12.42],[1.5,12.49],[1.6,12.52],[1.72,12.55]];
const dzPegPts: P[] = [[0.31,12.4],[0.34,12.45],[0.37,12.43],[0.4,12.48],[0.44,12.45],[0.48,12.5],[0.52,12.48],[0.56,12.52],[0.6,12.5],[0.64,12.54],[0.68,12.5],[0.72,12.55],[0.76,12.52],[0.8,12.58],[0.84,12.6],[0.87,12.5],[0.9,12.3],[0.92,12.15],[0.94,12.0],[0.96,11.9],[0.98,11.82],[1.0,11.86],[1.02,11.82],[1.05,11.92],[1.08,11.95],[1.11,12.02],[1.14,12.08],[1.18,12.12],[1.22,12.2],[1.26,12.24],[1.3,12.3],[1.34,12.36],[1.38,12.4],[1.42,12.42],[1.46,12.46],[1.5,12.5],[1.55,12.52],[1.6,12.5],[1.65,12.55],[1.7,12.53]];
const ciAnd: P[] = [[0.3,12.4],[0.37,12.48],[0.43,12.44],[0.5,12.55],[0.56,12.5],[0.62,12.6],[0.67,12.56],[0.72,12.66],[0.78,12.8],[0.82,12.74],[0.87,12.5],[0.93,12.2],[1.0,12.04],[1.06,12.12],[1.11,12.27],[1.18,12.3],[1.25,12.38],[1.32,12.5],[1.38,12.56],[1.44,12.52],[1.5,12.6],[1.56,12.55],[1.64,12.64]];
const ciAndPts: P[] = [[0.31,12.38],[0.35,12.45],[0.39,12.5],[0.42,12.42],[0.46,12.55],[0.5,12.52],[0.54,12.6],[0.58,12.5],[0.62,12.65],[0.66,12.55],[0.7,12.62],[0.74,12.7],[0.77,12.85],[0.8,12.78],[0.84,12.65],[0.88,12.4],[0.92,12.25],[0.95,12.1],[0.98,11.98],[1.01,12.0],[1.03,12.08],[1.06,12.05],[1.09,12.2],[1.12,12.25],[1.16,12.3],[1.2,12.22],[1.24,12.4],[1.28,12.45],[1.32,12.42],[1.36,12.55],[1.4,12.6],[1.45,12.5],[1.5,12.58],[1.55,12.62],[1.6,12.6]];
const csSer: P[] = [[0.3,12.7],[0.38,12.78],[0.45,12.84],[0.52,12.8],[0.58,12.84],[0.65,12.8],[0.72,12.82],[0.8,12.88],[0.84,12.86],[0.88,12.6],[0.93,12.25],[0.98,12.09],[1.03,12.2],[1.1,12.38],[1.16,12.45],[1.22,12.5],[1.3,12.62],[1.36,12.6],[1.42,12.7],[1.5,12.76],[1.6,12.8],[1.69,12.8]];
const csSerPts: P[] = [[0.31,12.68],[0.34,12.75],[0.38,12.72],[0.42,12.85],[0.46,12.8],[0.5,12.9],[0.54,12.78],[0.58,12.88],[0.62,12.82],[0.66,12.95],[0.7,12.8],[0.74,12.85],[0.78,12.92],[0.82,12.98],[0.86,12.8],[0.89,12.5],[0.92,12.3],[0.95,12.15],[0.97,12.05],[1.0,12.1],[1.02,12.15],[1.05,12.25],[1.08,12.35],[1.12,12.42],[1.16,12.4],[1.2,12.52],[1.24,12.55],[1.28,12.6],[1.32,12.58],[1.36,12.65],[1.4,12.72],[1.45,12.7],[1.5,12.78],[1.55,12.75],[1.6,12.82],[1.65,12.78]];
const stBoo: P[] = [[0.29,11.2],[0.4,11.28],[0.5,11.34],[0.6,11.38],[0.7,11.42],[0.8,11.47],[0.86,11.5],[0.9,11.35],[0.95,11.05],[1.0,10.89],[1.05,10.91],[1.1,10.96],[1.2,11.06],[1.3,11.15],[1.4,11.25],[1.5,11.33],[1.6,11.38],[1.69,11.41]];
const stBooPts: P[] = [[0.31,11.18],[0.33,11.24],[0.36,11.22],[0.39,11.28],[0.42,11.26],[0.45,11.32],[0.48,11.3],[0.51,11.36],[0.54,11.33],[0.57,11.38],[0.6,11.35],[0.63,11.4],[0.66,11.38],[0.7,11.44],[0.73,11.4],[0.76,11.46],[0.79,11.44],[0.82,11.5],[0.85,11.54],[0.88,11.4],[0.9,11.3],[0.92,11.15],[0.94,11.05],[0.96,10.95],[0.98,10.88],[1.0,10.85],[1.02,10.9],[1.04,10.86],[1.07,10.94],[1.1,10.96],[1.13,10.98],[1.16,11.02],[1.2,11.05],[1.24,11.1],[1.28,11.12],[1.32,11.18],[1.36,11.2],[1.4,11.25],[1.44,11.28],[1.48,11.32],[1.52,11.34],[1.56,11.36],[1.6,11.4],[1.65,11.38],[1.68,11.42],[0.32,11.2],[0.35,11.26],[0.38,11.24],[0.41,11.3],[0.44,11.28],[0.47,11.34],[0.5,11.32],[0.53,11.38],[0.56,11.36],[0.59,11.4],[0.62,11.37],[0.65,11.42],[0.68,11.4],[0.72,11.46],[0.75,11.42],[0.78,11.48],[0.81,11.46],[0.84,11.5],[0.99,10.9],[1.01,10.88],[1.03,10.92],[1.06,10.9],[1.09,10.98],[1.12,10.96],[1.15,11.0],[1.18,11.06],[1.22,11.08],[1.26,11.12],[1.3,11.14],[1.34,11.2],[1.38,11.24],[1.42,11.26],[1.46,11.3],[1.5,11.34],[1.54,11.36],[1.58,11.38],[1.62,11.4],[1.66,11.42]];
const abUma: P[] = [[0.24,11.03],[0.3,11.06],[0.4,11.11],[0.5,11.16],[0.6,11.19],[0.7,11.22],[0.78,11.25],[0.83,11.25],[0.88,11.14],[0.94,11.0],[1.0,10.93],[1.05,10.93],[1.12,10.96],[1.2,11.01],[1.3,11.08],[1.4,11.14],[1.5,11.19],[1.6,11.22],[1.7,11.25]];
const abUmaPts: P[] = [[0.25,11.0],[0.28,11.06],[0.31,11.04],[0.34,11.1],[0.37,11.08],[0.4,11.13],[0.43,11.1],[0.46,11.16],[0.49,11.14],[0.52,11.18],[0.55,11.15],[0.58,11.2],[0.61,11.18],[0.64,11.22],[0.67,11.2],[0.7,11.24],[0.73,11.21],[0.76,11.27],[0.79,11.24],[0.82,11.28],[0.85,11.22],[0.87,11.16],[0.9,11.08],[0.93,11.02],[0.96,10.96],[0.99,10.92],[1.02,10.94],[1.04,10.9],[1.07,10.95],[1.1,10.93],[1.13,10.98],[1.16,10.96],[1.2,11.02],[1.24,11.0],[1.28,11.07],[1.32,11.06],[1.36,11.12],[1.4,11.1],[1.44,11.16],[1.48,11.15],[1.52,11.2],[1.56,11.18],[1.6,11.23],[1.65,11.2],[1.68,11.26],[0.26,11.04],[0.29,11.02],[0.32,11.08],[0.35,11.06],[0.38,11.12],[0.41,11.1],[0.44,11.14],[0.47,11.13],[0.5,11.17],[0.53,11.16],[0.56,11.2],[0.59,11.18],[0.62,11.21],[0.65,11.2],[0.68,11.24],[0.71,11.22],[0.74,11.26],[0.77,11.24],[0.8,11.28],[0.83,11.25],[0.98,10.94],[1.0,10.9],[1.03,10.92],[1.06,10.96],[1.08,10.92],[1.11,10.96],[1.14,10.95],[1.18,11.0],[1.22,11.03],[1.26,11.04],[1.3,11.08],[1.34,11.1],[1.38,11.12],[1.42,11.14],[1.46,11.18],[1.5,11.18],[1.54,11.2],[1.58,11.22],[1.62,11.22],[1.66,11.24]];
const uvVir: P[] = [[0.3,12.14],[0.36,12.2],[0.46,12.29],[0.56,12.36],[0.66,12.4],[0.74,12.4],[0.78,12.45],[0.83,12.53],[0.87,12.5],[0.9,12.33],[0.94,12.06],[0.98,11.9],[1.02,11.84],[1.055,11.83],[1.12,11.87],[1.19,11.95],[1.27,12.04],[1.345,12.15],[1.42,12.23],[1.5,12.31],[1.57,12.36],[1.62,12.39],[1.72,12.39]];
const uvVirPts: P[] = [[0.34,12.21],[0.41,12.27],[0.43,12.18],[0.5,12.23],[0.49,12.33],[0.57,12.32],[0.58,12.37],[0.59,12.39],[0.7,12.37],[0.74,12.43],[0.82,12.52],[0.92,12.26],[0.93,12.28],[0.97,11.88],[1.01,11.8],[1.04,11.97],[1.04,11.99],[1.06,11.88],[1.11,11.85],[1.12,11.85],[1.18,12.02],[1.25,12.03],[1.27,12.08],[1.31,12.15],[1.38,12.21],[1.43,12.24],[1.44,12.28],[1.48,12.17],[1.53,12.33],[1.55,12.24],[1.59,12.32],[1.61,12.39],[1.63,12.38]];
const bqVir: P[] = [[0.3,12.35],[0.36,12.38],[0.42,12.42],[0.48,12.38],[0.54,12.42],[0.6,12.38],[0.66,12.42],[0.72,12.45],[0.78,12.48],[0.83,12.5],[0.88,12.42],[0.93,12.3],[0.98,12.22],[1.03,12.2],[1.08,12.24],[1.14,12.25],[1.2,12.3],[1.26,12.32],[1.32,12.36],[1.38,12.42],[1.44,12.44],[1.5,12.42],[1.56,12.44],[1.64,12.46]];
const bqVirPts: P[] = [[0.31,12.3],[0.33,12.4],[0.36,12.34],[0.39,12.44],[0.42,12.38],[0.45,12.48],[0.48,12.36],[0.51,12.44],[0.54,12.5],[0.57,12.4],[0.6,12.34],[0.63,12.46],[0.66,12.38],[0.69,12.5],[0.72,12.42],[0.75,12.55],[0.78,12.46],[0.81,12.52],[0.84,12.56],[0.86,12.45],[0.89,12.38],[0.92,12.3],[0.95,12.25],[0.97,12.18],[1.0,12.15],[1.02,12.22],[1.04,12.12],[1.06,12.18],[1.08,12.28],[1.1,12.2],[1.13,12.3],[1.16,12.22],[1.19,12.32],[1.22,12.28],[1.25,12.38],[1.28,12.3],[1.31,12.4],[1.34,12.35],[1.37,12.46],[1.4,12.4],[1.43,12.5],[1.46,12.42],[1.5,12.46],[1.54,12.4],[1.58,12.5],[1.62,12.44]];
const arSer: P[] = [[0.4,12.22],[0.52,12.27],[0.62,12.3],[0.72,12.34],[0.795,12.37],[0.845,12.38],[0.89,12.36],[0.94,12.3],[0.98,12.22],[1.02,12.15],[1.056,12.09],[1.106,12.06],[1.156,12.05],[1.206,12.07],[1.27,12.13],[1.34,12.19],[1.44,12.24],[1.54,12.3],[1.64,12.35],[1.74,12.39],[1.8,12.41]];
const arSerPts: P[] = [[0.42,12.14],[0.46,12.16],[0.46,12.32],[0.5,12.26],[0.55,12.35],[0.57,12.24],[0.59,12.25],[0.61,12.18],[0.63,12.36],[0.66,12.29],[0.68,12.32],[0.7,12.39],[0.71,12.45],[0.73,12.34],[0.75,12.23],[0.76,12.36],[0.78,12.4],[0.8,12.35],[0.81,12.22],[0.82,12.44],[0.83,12.3],[0.86,12.29],[0.87,12.4],[0.88,12.34],[0.91,12.46],[0.91,12.41],[0.94,12.32],[0.97,12.18],[0.98,12.23],[0.99,12.11],[1.0,11.88],[1.0,11.9],[1.04,12.06],[1.05,12.11],[1.07,11.97],[1.08,12.12],[1.09,12.0],[1.11,12.15],[1.12,12.2],[1.13,12.0],[1.14,12.02],[1.16,12.08],[1.17,12.01],[1.19,12.05],[1.22,12.02],[1.22,12.19],[1.24,12.1],[1.27,12.12],[1.29,12.15],[1.32,12.18],[1.34,12.14],[1.37,12.19],[1.39,12.22],[1.42,12.33],[1.44,12.26],[1.47,12.23],[1.49,12.28],[1.52,12.27],[1.57,12.35],[1.58,12.26],[1.61,12.19],[1.64,12.34],[1.69,12.39],[1.71,12.45],[1.72,12.37],[1.74,12.24],[1.76,12.4],[1.78,12.34],[1.79,12.38]];
const rvUma: P[] = [[0.29,10.95],[0.34,11.03],[0.41,11.07],[0.49,11.06],[0.56,11.1],[0.62,11.16],[0.69,11.15],[0.72,11.12],[0.77,11.16],[0.82,11.25],[0.86,11.27],[0.9,11.19],[0.93,10.98],[0.96,10.72],[0.99,10.54],[1.02,10.48],[1.06,10.52],[1.1,10.69],[1.15,10.79],[1.21,10.83],[1.26,10.87],[1.31,10.94],[1.36,11.03],[1.41,11.06],[1.46,11.05],[1.51,11.07],[1.57,11.15],[1.63,11.16],[1.69,11.13]];
const rvUmaPts: P[] = [[0.3,10.93],[0.31,11.01],[0.36,11.0],[0.41,11.07],[0.47,11.08],[0.49,11.11],[0.53,11.1],[0.56,11.07],[0.66,11.13],[0.69,11.19],[0.71,11.22],[0.77,11.13],[0.8,11.16],[0.85,11.19],[0.9,11.08],[0.98,10.64],[1.0,10.46],[1.02,10.44],[1.03,10.47],[1.08,10.58],[1.07,10.77],[1.08,10.73],[1.12,10.69],[1.14,10.69],[1.17,10.8],[1.19,10.83],[1.21,10.79],[1.23,10.84],[1.26,10.89],[1.27,10.91],[1.3,10.97],[1.31,10.94],[1.33,11.0],[1.38,10.99],[1.42,11.05],[1.48,11.09],[1.51,11.11],[1.6,11.13],[1.68,11.17],[1.7,11.19]];
const dgHya: P[] = [[0.24,12.27],[0.3,12.31],[0.4,12.36],[0.5,12.41],[0.6,12.48],[0.7,12.55],[0.8,12.59],[0.85,12.55],[0.9,12.3],[0.95,12.02],[0.99,11.94],[1.04,11.97],[1.1,12.07],[1.2,12.2],[1.3,12.3],[1.4,12.38],[1.5,12.48],[1.6,12.55],[1.7,12.6]];
const dgHyaPts: P[] = [[0.25,12.25],[0.28,12.3],[0.31,12.28],[0.34,12.33],[0.37,12.36],[0.4,12.34],[0.43,12.4],[0.46,12.38],[0.5,12.44],[0.53,12.42],[0.56,12.47],[0.6,12.5],[0.63,12.46],[0.66,12.54],[0.7,12.52],[0.73,12.58],[0.76,12.55],[0.8,12.62],[0.83,12.56],[0.86,12.5],[0.89,12.35],[0.91,12.2],[0.93,12.1],[0.95,12.0],[0.97,11.92],[0.99,11.9],[1.01,11.95],[1.03,11.92],[1.06,12.0],[1.09,12.05],[1.12,12.1],[1.15,12.12],[1.18,12.18],[1.22,12.22],[1.26,12.24],[1.3,12.3],[1.34,12.32],[1.38,12.38],[1.42,12.4],[1.46,12.45],[1.5,12.5],[1.55,12.52],[1.6,12.56],[1.65,12.6],[1.68,12.62]];

const starNames = ['DR And','BT Aqr','SW Boo','UU Boo','UY Boo','RW Cnc','AQ Cnc','Z Cvn','RZ Cvn','SS Cvn','UZ Cvn','AL CMi','TV CrB','XZ Cyg','DM Cyg','CK Del','XZ Dra','SZ Gem','DL Her','SZ Hya','UU Hya','DD Hya','ET Hya','GO Hya','CQ Lac','TW Lyn','RR Lyr','RZ Lyr','CN Lyr','VV Peg','BH Peg','CG Peg','DZ Peg','CI And','CS Ser','ST  Boo','AB UMa','UV Vir','BQ Vir','AR Ser','RV UMa','DG Hya'];
const starStats = ['12.65 0.84','12.71 0.92','12.60 0.92','12.45 1.08','11.21 0.59','11.99 0.97','12.03 0.61','12.12 0.67','11.77 0.85','12.11 0.75','12.34 0.74','12.19 0.61','12.02 0.90','9.84 0.95','11.84 0.83','12.46 0.95','10.44 0.70','11.86 1.01','12.34 0.67','11.42 0.66','12.50 0.95','12.38 0.98','11.77 0.47','12.59 0.42','12.66 1.10','12.21 0.94','8.00 0.51','11.79 0.89','11.41 0.33','11.99 0.94','10.56 0.53','11.37 0.76','12.21 1.01','12.44 0.79','12.58 0.93','11.18 0.60','11.11 0.32','12.19 0.72','12.33 0.30','12.22 0.33','10.96 0.97','12.26 0.66'];
const yDomains: P[] = [[11.9,13.3],[12.1,13.5],[12.0,13.3],[11.8,13.2],[10.7,11.6],[11.3,12.6],[11.6,12.4],[11.5,12.9],[11.25,12.3],[11.6,12.75],[11.93,12.95],[11.85,12.63],[11.4,12.7],[9.2,10.4],[11.35,12.3],[11.8,13.05],[9.9,10.95],[11.23,12.5],[11.7,12.83],[10.92,11.9],[11.83,13.24],[11.68,13.05],[11.34,12.08],[12.25,13.0],[12.07,13.55],[11.6,12.8],[7.6,8.37],[11.13,12.44],[11.1,11.75],[11.5,12.72],[10.2,10.9],[10.88,11.75],[11.6,12.9],[11.8,13.0],[12.0,13.2],[10.62,11.74],[10.78,11.42],[11.7,12.65],[12.08,12.66],[11.85,12.55],[10.35,11.4],[11.87,12.75]];
const yLabels: number[][] = [
  [12.0,12.2,12.4,12.6,12.8,13.0,13.2],[12.2,12.4,12.6,12.8,13.0,13.2,13.4],[12.0,12.2,12.4,12.6,12.8,13.0,13.2],[11.8,12.0,12.2,12.4,12.6,12.8,13.0,13.2],[10.7,10.8,10.9,11.0,11.1,11.2,11.3,11.4,11.5,11.6],
  [11.4,11.6,11.8,12.0,12.2,12.4,12.6],[11.6,11.7,11.8,11.9,12.0,12.1,12.2,12.3,12.4],[11.6,11.8,12.0,12.2,12.4,12.6,12.8],[11.4,11.6,11.8,12.0,12.2],[11.8,12.0,12.2,12.4,12.6],
  [12.0,12.2,12.4,12.6,12.8],[11.9,12.0,12.1,12.2,12.3,12.4,12.5,12.6],[11.4,11.6,11.8,12.0,12.2,12.4,12.6],[9.2,9.4,9.6,9.8,10.0,10.2,10.4],[11.4,11.5,11.6,11.7,11.8,11.9,12.0,12.1,12.2,12.3],
  [12.0,12.2,12.4,12.6,12.8,13.0],[10.0,10.2,10.4,10.6,10.8],[11.4,11.6,11.8,12.0,12.2,12.4],[11.8,12.0,12.2,12.4,12.6,12.8],[11.0,11.2,11.4,11.6,11.8],
  [12.0,12.2,12.4,12.6,12.8,13.0,13.2],[11.8,12.0,12.2,12.4,12.6,12.8,13.0],[11.4,11.5,11.6,11.7,11.8,11.9,12.0],[12.3,12.4,12.5,12.6,12.7,12.8,12.9],[12.2,12.4,12.6,12.8,13.0,13.2,13.4],
  [11.8,12.0,12.2,12.4,12.6,12.8],[7.7,7.8,7.9,8.0,8.1,8.2,8.3],[11.2,11.4,11.6,11.8,12.0,12.2,12.4],[11.1,11.2,11.3,11.4,11.5,11.6,11.7],[11.6,11.8,12.0,12.2,12.4,12.6],
  [10.3,10.4,10.5,10.6,10.7,10.8,10.9],[10.9,11.0,11.1,11.2,11.3,11.4,11.5,11.6,11.7],[11.8,12.0,12.2,12.4,12.6,12.8],[11.8,12.0,12.2,12.4,12.6,12.8],[12.0,12.2,12.4,12.6,12.8,13.0,13.2],
  [10.8,11.0,11.2,11.4,11.6],[10.9,11.0,11.1,11.2,11.3,11.4],[11.7,11.8,11.9,12.0,12.1,12.2,12.3,12.4,12.5,12.6],[12.1,12.2,12.3,12.4,12.5,12.6],[11.9,12.0,12.1,12.2,12.3,12.4,12.5],
  [10.4,10.6,10.8,11.0,11.2,11.4],[11.9,12.0,12.1,12.2,12.3,12.4,12.5,12.6,12.7],
];
const curves = [drAnd,btAqr,swBoo,uuBoo,uyBoo,rwCnc,aqCnc,zCvn,rzCvn,ssCvn,uzCvn,alCmi,tvCrb,xzCyg,dmCyg,ckDel,xzDra,szGem,dlHer,szHya,uuHya,ddHya,etHya,goHya,cqLac,twLyn,rrLyr,rzLyr,cnLyr,vvPeg,bhPeg,cgPeg,dzPeg,ciAnd,csSer,stBoo,abUma,uvVir,bqVir,arSer,rvUma,dgHya];
const points = [drAndPts,btAqrPts,swBooPts,uuBooPts,uyBooPts,rwCncPts,aqCncPts,zCvnPts,rzCvnPts,ssCvnPts,uzCvnPts,alCmiPts,tvCrbPts,xzCygPts,dmCygPts,ckDelPts,xzDraPts,szGemPts,dlHerPts,szHyaPts,uuHyaPts,ddHyaPts,etHyaPts,goHyaPts,cqLacPts,twLynPts,rrLyrPts,rzLyrPts,cnLyrPts,vvPegPts,bhPegPts,cgPegPts,dzPegPts,ciAndPts,csSerPts,stBooPts,abUmaPts,uvVirPts,bqVirPts,arSerPts,rvUmaPts,dgHyaPts];

const xTickVals = [0.3,0.4,0.5,0.6,0.7,0.8,0.9,1.0,1.1,1.2,1.3,1.4,1.5,1.6,1.7,1.8];
const xLabelVals = [0.4,0.6,0.8,1.0,1.2,1.4,1.6];
const xLabelValsWide = [0.4,0.6,0.8,1.0,1.2,1.4,1.6,1.8];

// layout (pixels of the plot boxes)
const COLS = [[17,205],[222,413],[432,619],[638,823],[844,1033]];
const COL_XDOMAIN: P[] = [[0.29,1.69],[0.24,1.7],[0.3,1.72],[0.3,1.64],[0.3,1.69]];
const ROW0 = 7;
const ROW_H = 118;
const L = 22, R = 6, T = 12, B = 12;
const FONT = '"Liberation Sans", Arial, Helvetica, sans-serif';

const near = (arr: number[], v: number) => arr.some((a) => Math.abs(a - v) < 1e-6);

function XTick({ x, y, payload, labs, showTop, showBottom }: any) {
  const v = payload.value;
  const major = near(labs, v);
  const len = major ? 4 : 2.5;
  return (
    <g>
      <line x1={x} x2={x} y1={y} y2={y - len} stroke="#000" strokeWidth={1} />
      <line x1={x} x2={x} y1={y - ROW_H} y2={y - ROW_H + len} stroke="#000" strokeWidth={1} />
      {major && showBottom && (
        <text x={x} y={y + 6.5} textAnchor="middle" fontSize={6.5} fontWeight="bold" fontFamily={FONT} fill="#000">{v.toFixed(1)}</text>
      )}
      {major && showTop && (
        <text x={x} y={y - ROW_H - 2} textAnchor="middle" fontSize={6.5} fontWeight="bold" fontFamily={FONT} fill="#000">{v.toFixed(1)}</text>
      )}
    </g>
  );
}

function YTick({ x, y, payload, W, labs }: any) {
  const v = payload.value;
  const major = near(labs, v);
  const len = major ? 4 : 2.5;
  return (
    <g>
      <line x1={x} x2={x + len} y1={y} y2={y} stroke="#000" strokeWidth={1} />
      <line x1={x + W} x2={x + W - len} y1={y} y2={y} stroke="#000" strokeWidth={1} />
      {major && <line x1={x - 19} x2={x - 16.5} y1={y} y2={y} stroke="#000" strokeWidth={0.8} />}
      {major && (
        <text x={x - 3} y={y + 2.3} textAnchor="end" fontSize={6.5} fontWeight="bold" fontFamily={FONT} fill="#000">{v.toFixed(1)}</text>
      )}
    </g>
  );
}

const Sq = (p: any) => <rect x={p.cx - 1.1} y={p.cy - 1.1} width={2.2} height={2.2} fill="#000" />;

function Panel({ i }: { i: number }) {
  const row = Math.floor(i / 5);
  const col = i % 5;
  const [pl, pr] = COLS[col];
  const W = pr - pl;
  const top = ROW0 + ROW_H * row;
  const xd: P = i === 39 ? [0.4, 1.8] : COL_XDOMAIN[col];
  const xLabs = i === 39 ? xLabelValsWide : xLabelVals;
  const xt = xTickVals.filter((v) => v >= xd[0] - 1e-6 && v <= xd[1] + 1e-6);
  const yd = yDomains[i];
  const labs = yLabels[i];
  const step = labs[1] - labs[0];
  const yt: number[] = [...labs];
  for (let k = -1; k < labs.length; k++) {
    const m = +(labs[0] + step * (k + 0.5)).toFixed(3);
    if (m >= yd[0] && m <= yd[1]) yt.push(m);
  }
  const showTop = row === 0;
  const showBottom = row === 8 || (row === 7 && col >= 2);
  const curve = curves[i].map(([x, y]) => ({ x, y }));
  const pts = points[i].map(([x, y]) => ({ x, y }));
  return (
    <div style={{ position: 'absolute', left: pl - L, top: top - T }}>
      <ComposedChart width={W + L + R} height={ROW_H + T + B} margin={{ top: T, right: R, bottom: 0, left: 0 }}>
        <XAxis
          type="number" dataKey="x" domain={xd} ticks={xt} interval={0} allowDataOverflow
          height={B} axisLine={false} tickLine={false} tickSize={0} tickMargin={0}
          tick={(p: any) => <XTick {...p} labs={xLabs} showTop={showTop} showBottom={showBottom} />}
        />
        <YAxis
          type="number" dataKey="y" domain={yd} reversed ticks={yt} interval={0} allowDataOverflow
          width={L} axisLine={false} tickLine={false} tickSize={0} tickMargin={0}
          tick={(p: any) => <YTick {...p} W={W} labs={labs} />}
        />
        <Scatter data={pts} dataKey="y" fill="#000" shape={Sq} isAnimationActive={false} />
        <Line data={curve} dataKey="y" type="monotone" dot={false} activeDot={false} stroke="#000" strokeWidth={1.3} isAnimationActive={false} />
      </ComposedChart>
    </div>
  );
}

export default function App() {
  return (
    <div style={{ position: 'absolute', left: 0, top: 0, width: 1039, height: 1076, background: '#fff', overflow: 'hidden' }}>
      {starNames.map((_, i) => <Panel key={i} i={i} />)}
      <svg width={1039} height={1076} style={{ position: 'absolute', left: 0, top: 0, pointerEvents: 'none' }}>
        {starNames.map((name, i) => {
          const row = Math.floor(i / 5);
          const col = i % 5;
          const [pl, pr] = COLS[col];
          const top = ROW0 + ROW_H * row;
          return (
            <g key={i}>
              <rect x={pl} y={top} width={pr - pl} height={ROW_H} fill="none" stroke="#000" strokeWidth={1.2} />
              <line x1={pl} x2={pr} y1={top} y2={top} stroke="#000" strokeWidth={2} />
              <line x1={pl} x2={pr} y1={top + ROW_H} y2={top + ROW_H} stroke="#000" strokeWidth={2} />
              <text x={pl + 14} y={top + 16.5} fontSize={12} fontFamily={FONT} fill="#000" style={{ whiteSpace: 'pre' }}>{name}</text>
              <text x={pr - 5} y={top + 16.5} fontSize={12} fontFamily={FONT} fill="#000" textAnchor="end">{starStats[i]}</text>
            </g>
          );
        })}
      </svg>
    </div>
  );
}
